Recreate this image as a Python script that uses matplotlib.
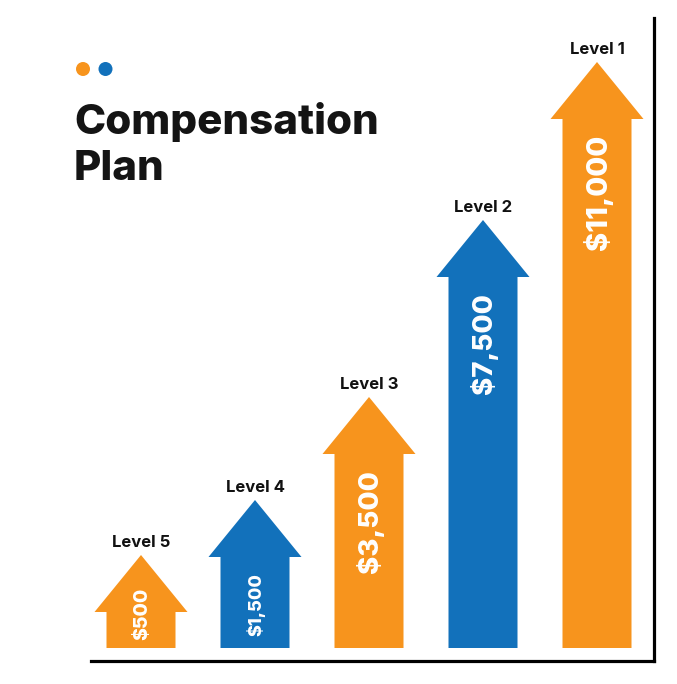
import matplotlib
matplotlib.use("Agg")
import matplotlib.pyplot as plt
from matplotlib.patches import Polygon, Ellipse

# ---- data ----
levels = ["Level 5", "Level 4", "Level 3", "Level 2", "Level 1"]
amounts = [500, 1500, 3500, 7500, 11000]
# displayed arrow heights (arbitrary units)
arrow_heights = [93, 148, 251, 428, 586]

# ---- style ----
ORANGE = "#F7941D"
BLUE = "#1271BB"
colors = [ORANGE, BLUE, ORANGE, BLUE, ORANGE]
value_sizes = [14, 13, 20, 20, 21]
plt.rcParams['font.family'] = ["Inter", "DejaVu Sans"]

W, H = 677, 684
fig = plt.figure(figsize=(W / 100, H / 100), dpi=100)
fig.patch.set_facecolor("white")

ax = fig.add_axes([91 / W, (H - 660.5) / H, (654 - 91) / W, (660.5 - 18) / H])
step = 114.0
ax.set_xlim((91 - 141) / step, (654 - 141) / step)
ax.set_ylim(-12.5, 630)

head_h = 57
head_w = 93 / step
body_w = 69 / step

for i, (lvl, amt, h, c, fs) in enumerate(zip(levels, amounts, arrow_heights, colors, value_sizes)):
    base_top = h - head_h
    pts = [(i - body_w / 2, 0), (i + body_w / 2, 0), (i + body_w / 2, base_top),
           (i + head_w / 2, base_top), (i, h), (i - head_w / 2, base_top),
           (i - body_w / 2, base_top)]
    ax.add_patch(Polygon(pts, closed=True, facecolor=c, edgecolor="none"))
    ax.text(i, h + 8, lvl, ha="center", va="baseline", fontsize=12,
            fontweight="bold", color="#111111")
    label = f"${amt:,}"
    ytop = base_top - 16
    if i == 0:
        ytop = base_top + 24
    ax.text(i + 0.01, ytop, label, rotation=90, ha="center", va="top",
            fontsize=fs, fontweight="heavy", color="white")

for side in ["left", "top"]:
    ax.spines[side].set_visible(False)
for side in ["bottom", "right"]:
    ax.spines[side].set_linewidth(2.3)
    ax.spines[side].set_color("black")
ax.set_xticks([])
ax.set_yticks([])
ax.patch.set_alpha(0)

# title
fig.text(74 / W, (H - 134) / H, "Compensation", ha="left", va="baseline",
         fontsize=30.3, fontweight="heavy", color="#141414")
fig.text(74 / W, (H - 180) / H, "Plan", ha="left", va="baseline",
         fontsize=30.3, fontweight="heavy", color="#141414")

# decorative dots
for cx, col in [(83, ORANGE), (105.5, BLUE)]:
    fig.add_artist(Ellipse((cx / W, (H - 69) / H), 14 / W, 14 / H,
                           transform=fig.transFigure, facecolor=col, edgecolor="none"))

fig.savefig("out.png", dpi=100)
